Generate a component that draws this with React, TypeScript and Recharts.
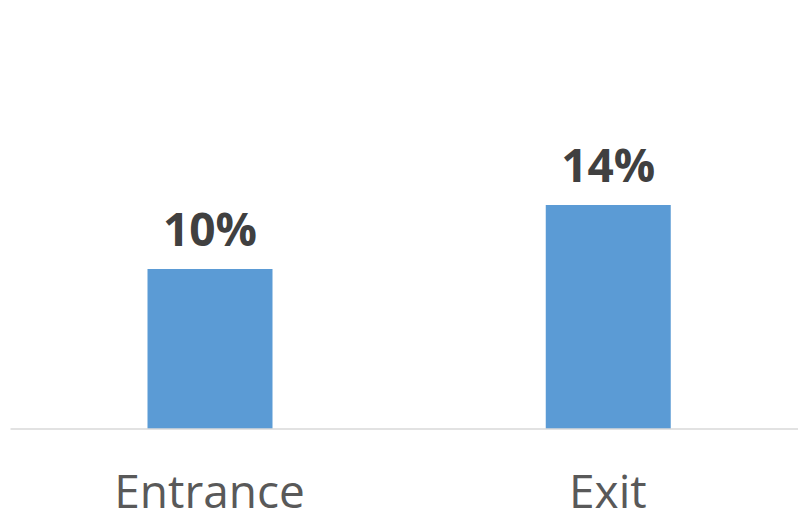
import React from "react";
import { BarChart, Bar, XAxis, YAxis, LabelList } from "recharts";

const categories = ["Entrance", "Exit"];
const values = [0.1, 0.14];

const data = categories.map((c, i) => ({ name: c, value: values[i] }));

const CategoryTick = (props: any) => {
  const { x, y, payload } = props;
  return (
    <text
      x={x}
      y={y + 71}
      textAnchor="middle"
      fill="#595959"
      fontFamily="'Open Sans', sans-serif"
      fontSize={46}
    >
      {payload.value}
    </text>
  );
};

export default function App() {
  return (
    <div style={{ position: "absolute", left: 0, top: 0, width: 798, height: 519, overflow: "hidden", background: "#fff" }}>
      <BarChart
        width={807}
        height={519}
        data={data}
        margin={{ top: 29, right: 0, left: 10.5, bottom: 0 }}
      >
        <XAxis
          dataKey="name"
          height={90}
          axisLine={{ stroke: "#D9D9D9", strokeWidth: 1.5 }}
          tickLine={false}
          tick={<CategoryTick />}
          interval={0}
        />
        <YAxis hide domain={[0, 0.25]} />
        <Bar dataKey="value" fill="#5B9BD5" barSize={125} isAnimationActive={false}>
          <LabelList
            dataKey="value"
            position="top"
            offset={23}
            formatter={(v: any) => `${Math.round(Number(v) * 100)}%`}
            fill="#404040"
            fontFamily="'Open Sans', sans-serif"
            fontSize={46}
            fontWeight="bold"
          />
        </Bar>
      </BarChart>
    </div>
  );
}
